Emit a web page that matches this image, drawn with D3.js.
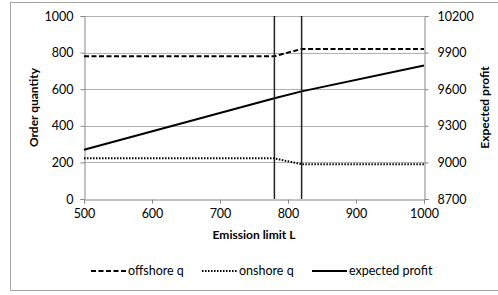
<!DOCTYPE html>
<html>
<head>
<meta charset="utf-8">
<script src="https://d3js.org/d3.v7.min.js"></script>
<style>
  body { margin: 0; background: #fff; }
  text { font-family: Lato, "Open Sans", sans-serif; fill: #000; }
</style>
</head>
<body>
<div id="chart"></div>
<script>
// emission limit L and the series
var limitL = [500, 780, 820, 1000];
var offshoreQ = [780, 780, 820, 820];
var onshoreQ = [222, 222, 190, 190];
var expectedProfit = [9103, 9526, 9582, 9795];
var markers = [780, 820];

var xTicks = [500, 600, 700, 800, 900, 1000];
var leftTicks = [0, 200, 400, 600, 800, 1000];
var rightTicks = [8700, 9000, 9300, 9600, 9900, 10200];

var width = 498, height = 295;
var plot = { left: 84, right: 424, top: 16, bottom: 199 };

var svg = d3.select("#chart").append("svg")
  .attr("width", width)
  .attr("height", height);

// outer chart frame
svg.append("rect")
  .attr("x", 10.5).attr("y", 2.5)
  .attr("width", 520).attr("height", 288)
  .attr("fill", "none")
  .attr("stroke", "#a6a6a6");

var x = d3.scaleLinear().domain([500, 1000]).range([plot.left, plot.right]);
var yL = d3.scaleLinear().domain([0, 1000]).range([plot.bottom, plot.top]);
var yR = d3.scaleLinear().domain([8700, 10200]).range([plot.bottom, plot.top]);

// gridlines
svg.append("g")
  .selectAll("line")
  .data(leftTicks.slice(1))
  .enter().append("line")
  .attr("x1", plot.left).attr("x2", plot.right)
  .attr("y1", function(d) { return Math.round(yL(d)) + 0.5; })
  .attr("y2", function(d) { return Math.round(yL(d)) + 0.5; })
  .attr("stroke", "#b0b0b0");

// axes
var fmt = d3.format("d");
var gx = svg.append("g")
  .attr("transform", "translate(0," + (Math.round(plot.bottom) + 0.5) + ")")
  .call(d3.axisBottom(x).tickValues(xTicks).tickFormat(fmt).tickSize(4).tickPadding(6));
var gl = svg.append("g")
  .attr("transform", "translate(" + (plot.left + 0.5) + ",0)")
  .call(d3.axisLeft(yL).tickValues(leftTicks).tickFormat(fmt).tickSize(4).tickPadding(7));
var gr = svg.append("g")
  .attr("transform", "translate(" + (plot.right + 0.5) + ",0)")
  .call(d3.axisRight(yR).tickValues(rightTicks).tickFormat(fmt).tickSize(4).tickPadding(9));

[gx, gl, gr].forEach(function(g) {
  g.select(".domain").attr("stroke", "#868686");
  g.selectAll(".tick line").attr("stroke", "#868686");
  g.selectAll(".tick text").style("font-size", "12.5px").attr("fill", "#000");
});

// series
var line = function(ys, scale) {
  return d3.line()
    .x(function(d, i) { return x(limitL[i]); })
    .y(function(d) { return scale(d); })(ys);
};

svg.append("path")
  .attr("d", line(offshoreQ, yL))
  .attr("fill", "none").attr("stroke", "#000")
  .attr("stroke-width", 2).attr("stroke-dasharray", "5,2.5");

svg.append("path")
  .attr("d", line(onshoreQ, yL))
  .attr("fill", "none").attr("stroke", "#000")
  .attr("stroke-width", 2).attr("stroke-dasharray", "1.5,1.5");

svg.append("path")
  .attr("d", line(expectedProfit, yR))
  .attr("fill", "none").attr("stroke", "#000")
  .attr("stroke-width", 2);

// vertical markers at the emission thresholds
svg.selectAll(".marker")
  .data(markers)
  .enter().append("line")
  .attr("class", "marker")
  .attr("x1", function(d) { return x(d); })
  .attr("x2", function(d) { return x(d); })
  .attr("y1", plot.top).attr("y2", plot.bottom)
  .attr("stroke", "#222").attr("stroke-width", 1.5);

// axis titles
svg.append("text")
  .attr("x", (plot.left + plot.right) / 2).attr("y", 239)
  .attr("text-anchor", "middle")
  .style("font-size", "12px").style("font-weight", "bold")
  .text("Emission limit L");

svg.append("text")
  .attr("transform", "translate(38," + ((plot.top + plot.bottom) / 2) + ") rotate(-90)")
  .attr("text-anchor", "middle")
  .style("font-size", "12px").style("font-weight", "bold")
  .text("Order quantity");

svg.append("text")
  .attr("transform", "translate(489," + ((plot.top + plot.bottom) / 2) + ") rotate(-90)")
  .attr("text-anchor", "middle")
  .style("font-size", "12px").style("font-weight", "bold")
  .text("Expected profit");

// legend
var legend = [
  { name: "offshore q", dash: "5,2.5", x0: 91 },
  { name: "onshore q", dash: "1.5,1.5", x0: 202 },
  { name: "expected profit", dash: null, x0: 312 }
];
var lg = svg.append("g").attr("transform", "translate(0,271)");
legend.forEach(function(d) {
  lg.append("line")
    .attr("x1", d.x0).attr("x2", d.x0 + 35)
    .attr("y1", 0).attr("y2", 0)
    .attr("stroke", "#000").attr("stroke-width", 2)
    .attr("stroke-dasharray", d.dash);
  lg.append("text")
    .attr("x", d.x0 + 37).attr("y", 4)
    .style("font-size", "12.5px")
    .text(d.name);
});
</script>
</body>
</html>
